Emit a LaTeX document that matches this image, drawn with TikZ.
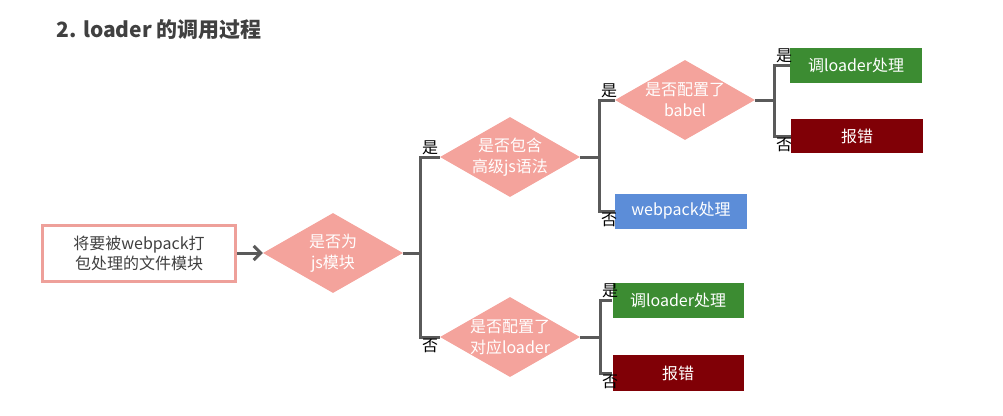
\documentclass[tikz,border=0pt]{standalone}
\usepackage{fontspec}
\setmainfont{Noto Sans CJK SC}
\usetikzlibrary{shapes.geometric,arrows.meta}
\definecolor{dpink}{RGB}{244,163,156}
\definecolor{bpink}{RGB}{238,160,154}
\definecolor{lgray}{RGB}{90,90,90}
\definecolor{tgray}{RGB}{64,64,64}
\definecolor{okgreen}{RGB}{60,140,50}
\definecolor{errred}{RGB}{128,0,6}
\definecolor{wpblue}{RGB}{92,141,216}
\tikzset{
  dec/.style={diamond,fill=dpink,minimum width=140pt,minimum height=80pt,inner sep=0pt},
  dtext/.style={text=white,align=center,inner sep=0pt,font=\fontsize{16}{21}\selectfont},
  act/.style={minimum width=132pt,minimum height=35pt,inner sep=0pt,text=white,
    font=\fontsize{16}{20}\selectfont},
  link/.style={draw=lgray,line width=3pt},
  yn/.style={inner sep=0pt,outer sep=2pt,font=\fontsize{16}{16}\selectfont}
}
\begin{document}
\begin{tikzpicture}[x=1pt,y=-1pt]
\useasboundingbox (0,0) rectangle (1003,415);

\node[anchor=west,text=tgray,font=\bfseries\fontsize{21}{21}\selectfont] (title) at (53,30) {2. loader 的调用过程};

% start
\node[draw=bpink,line width=3pt,fill=white,minimum width=193pt,minimum height=56pt,
  align=center,text=tgray,font=\fontsize{16}{20}\selectfont] (start) at (139,253)
  {将要被webpack打\\包处理的文件模块};

% decisions
\node[dec,label={[dtext]center:{是否为\\js模块}}] (d1) at (333,253) {};
\node[dec,label={[dtext]center:{是否包含\\高级js语法}}] (d2) at (510,157) {};
\node[dec,label={[dtext]center:{是否配置了\\对应loader}}] (d3) at (510,337) {};
\node[dec,label={[dtext]center:{是否配置了\\babel}}] (d4) at (685,100) {};

% results
\node[act,fill=okgreen] (g1) at (856,65) {调loader处理};
\node[act,fill=errred,minimum height=34pt] (r1) at (857,136) {报错};
\node[act,fill=wpblue] (web) at (681,211) {webpack处理};
\node[act,fill=okgreen,minimum width=131pt] (g2) at (678,300) {调loader处理};
\node[act,fill=errred,minimum width=131pt,minimum height=36pt] (r2) at (678,373) {报错};

\draw[link,-{Straight Barb[length=7pt,width=14pt]}] (start) -- (d1);

\draw[link] (d1.east) -- ++(17,0) coordinate (j1);
\draw[link] (d2.west) -| (j1) |- (d3.west);
\draw[link] (d2.east) -- ++(19,0) coordinate (j2);
\draw[link] (d4.west) -| (j2) |- (web.west);
\draw[link] (d4.east) -- ++(19,0) coordinate (j4);
\draw[link] (g1.west) -| (j4) |- (r1.west);
\draw[link] (d3.east) -- ++(20,0) coordinate (j3);
\draw[link] (g2.west) -| (j3) |- (r2.west);

% yes / no
\foreach \yes/\no/\j in {d2/d3/j1,d4/web/j2,g1/r1/j4,g2/r2/j3}
 {\node[yn,anchor=south west] at (\yes.west -| \j) {是};
  \node[yn,anchor=north west] at (\no.west -| \j) {否};}

\end{tikzpicture}
\end{document}
